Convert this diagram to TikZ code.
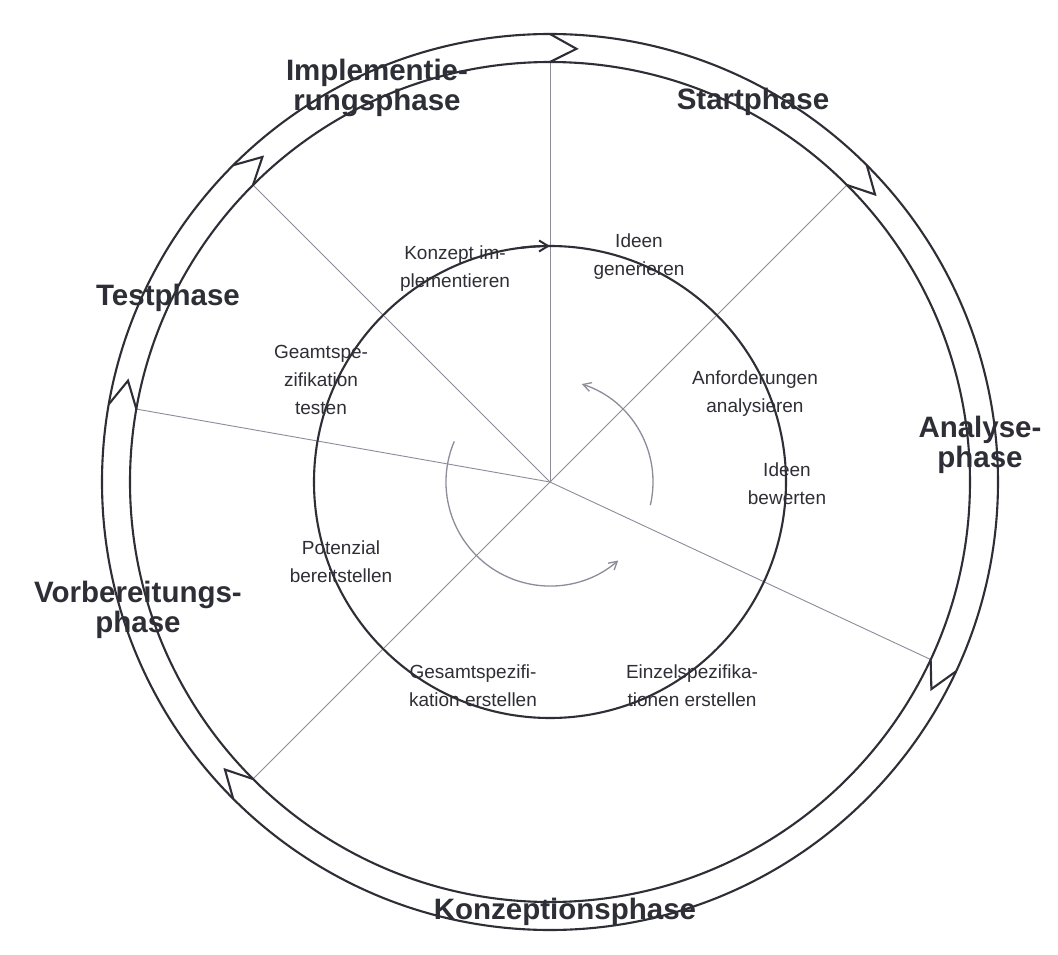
\documentclass[tikz,border=0pt]{standalone}
\usepackage{fontspec}
\setmainfont{Liberation Sans}
\usetikzlibrary{arrows.meta}
\definecolor{ink}{HTML}{2E2E36}
\definecolor{spokegray}{HTML}{8C8C9A}
\begin{document}
\begin{tikzpicture}[x=1pt,y=1pt,
  ringline/.style={draw=ink,line width=2.1pt},
  spoke/.style={draw=spokegray,line width=0.9pt},
  spiral/.style={draw=spokegray,line width=1.3pt},
  phase/.style={text=ink,font=\bfseries\fontsize{29.5}{30}\selectfont,align=center,inner sep=0pt},
  task/.style={text=ink,font=\fontsize{19}{28}\selectfont,align=center,inner sep=0pt}]
\useasboundingbox[fill=white] (-550,-472) rectangle (508,482);
\coordinate (c) at (0,0);
% spokes
\foreach \a/\n in {90/s1,45/s2,-25/s3,-135/s4,170/s5,135/s6}{
  \coordinate (\n) at (\a:420);
  \draw[spoke] (c) -- (\n);
}
% ring
\draw[ringline] (c) circle[radius=420];
\draw[ringline] (c) circle[radius=448];
\foreach \a in {90,45,-25,-135,170,135}{
  \draw[ringline,line join=miter] (\a:448) -- (\a-3.5:434) -- (\a:420);
}
% inner circle
\draw[ringline] (c) circle[radius=236];
\draw[ringline,-{Straight Barb[length=9pt,width=11pt,line width=2pt]}] (97:236) arc[start angle=97,end angle=90,radius=236];
% inner spiral arrows
\draw[spiral,-{Straight Barb[length=8pt,width=9pt]}] (-13:103) arc[start angle=-13,end angle=72,radius=103];
\draw[spiral,-{Straight Barb[length=8pt,width=9pt]}] (157:104) arc[start angle=157,end angle=311,radius=104];
% phase labels
\node[phase] (p1) at (-173,394) {Implementie-\\rungsphase};
\node[phase] (p2) at (203,380) {Startphase};
\node[phase] (p3) at (430,37) {Analyse-\\phase};
\node[phase] (p4) at (-382,184) {Testphase};
\node[phase] (p5) at (-412,-128) {Vorbereitungs-\\phase};
\node[phase] (p6) at (15,-430) {Konzeptionsphase};
% task labels
\node[task] (t1) at (-95,213) {Konzept im-\\plementieren};
\node[task] (t2) at (89,225) {Ideen\\generieren};
\node[task] (t3) at (-229,102) {Geamtspe-\\zifikation\\testen};
\node[task] (t4) at (205,88) {Anforderungen\\analysieren};
\node[task] (t5) at (237,-2) {Ideen\\bewerten};
\node[task] (t6) at (-209,-80) {Potenzial\\bereitstellen};
\node[task] (t7) at (-77,-204) {Gesamtspezifi-\\kation erstellen};
\node[task] (t8) at (142,-204) {Einzelspezifika-\\tionen erstellen};
\end{tikzpicture}
\end{document}
